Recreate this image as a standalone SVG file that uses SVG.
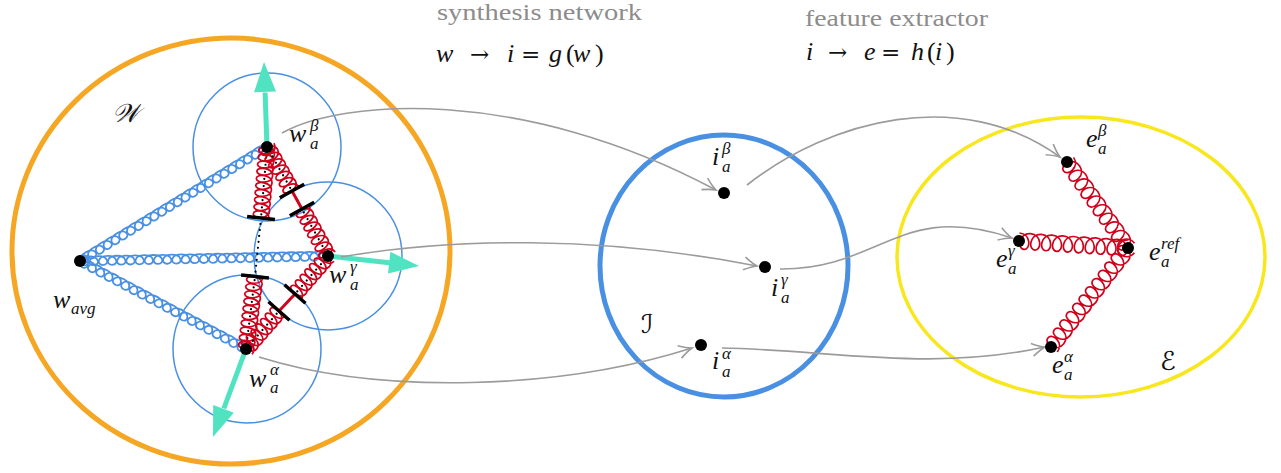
<svg xmlns="http://www.w3.org/2000/svg" width="1281" height="473" viewBox="0 0 1281 473">
<style>
.thin{fill:none;stroke:#4a90e2;stroke-width:1.5}
.bcoil{fill:none;stroke:#4a90e2;stroke-width:1.8}
.rcoil{fill:none;stroke:#d0021b;stroke-width:1.7}
.axis{stroke:#000;stroke-width:2.2;stroke-linecap:round}
.bar{stroke:#000;stroke-width:3.5}
.rod{stroke:#d0021b;stroke-width:3}
.teal{stroke:#50e3c2;stroke-width:5}
.tealhead{fill:#50e3c2}
.conn{fill:none;stroke:#9b9b9b;stroke-width:1.6;marker-end:url(#open)}
.dot{fill:#000}
.m{font-family:"Liberation Serif","DejaVu Serif",serif;font-style:italic;font-size:26px;fill:#111}
.s{font-size:17px}
.op{font-family:"DejaVu Serif",serif;font-style:normal;font-size:23px}
.up{font-style:normal}
.cap{font-family:"Liberation Serif",serif;font-size:23px;fill:#8c8c8c}
.cal{font-family:"DejaVu Serif","DejaVu Sans",serif;font-style:italic;font-size:26px;fill:#111}
</style>
<defs>
<marker id="open" markerUnits="userSpaceOnUse" markerWidth="20" markerHeight="20" viewBox="-16 -10 20 20" refX="0" refY="0" orient="auto">
<path d="M-13,-6.5 Q-5,-1.5 0,0 Q-5,1.5 -13,6.5" fill="none" stroke="#9b9b9b" stroke-width="1.6"/>
</marker>
</defs>

<g id="spaces">
<ellipse id="W-space" cx="231" cy="251" rx="219" ry="213" fill="none" stroke="#f5a623" stroke-width="5"/>
<ellipse id="I-space" cx="724" cy="266" rx="124" ry="131" fill="none" stroke="#4a90e2" stroke-width="5"/>
<ellipse id="E-space" cx="1081" cy="257" rx="184" ry="140" fill="none" stroke="#f8e71c" stroke-width="3.5"/>
<circle class="thin" cx="267" cy="147" r="74"/>
<circle class="thin" cx="328" cy="256" r="74"/>
<circle class="thin" cx="247" cy="349" r="74"/>
</g>

<g id="blue-springs">
<path class="bcoil" transform="translate(80,261) rotate(-31.37)" d="M0,-4.5 c10.34,0 11.02,9 4.56,9 c-6.46,0 -5.78,-9 4.56,-9 c10.34,0 11.02,9 4.56,9 c-6.46,0 -5.78,-9 4.56,-9 c10.34,0 11.02,9 4.56,9 c-6.46,0 -5.78,-9 4.56,-9 c10.34,0 11.02,9 4.56,9 c-6.46,0 -5.78,-9 4.56,-9
c10.34,0 11.02,9 4.56,9 c-6.46,0 -5.78,-9 4.56,-9 c10.34,0 11.02,9 4.56,9 c-6.46,0 -5.78,-9 4.56,-9 c10.34,0 11.02,9 4.56,9 c-6.46,0 -5.78,-9 4.56,-9 c10.34,0 11.02,9 4.56,9 c-6.46,0 -5.78,-9 4.56,-9
c10.34,0 11.02,9 4.56,9 c-6.46,0 -5.78,-9 4.56,-9 c10.34,0 11.02,9 4.56,9 c-6.46,0 -5.78,-9 4.56,-9 c10.34,0 11.02,9 4.56,9 c-6.46,0 -5.78,-9 4.56,-9 c10.34,0 11.02,9 4.56,9 c-6.46,0 -5.78,-9 4.56,-9
c10.34,0 11.02,9 4.56,9 c-6.46,0 -5.78,-9 4.56,-9 c10.34,0 11.02,9 4.56,9 c-6.46,0 -5.78,-9 4.56,-9 c10.34,0 11.02,9 4.56,9 c-6.46,0 -5.78,-9 4.56,-9 c10.34,0 11.02,9 4.56,9 c-6.46,0 -5.78,-9 4.56,-9
c10.34,0 11.02,9 4.56,9 c-6.46,0 -5.78,-9 4.56,-9 c10.34,0 11.02,9 4.56,9 c-6.46,0 -5.78,-9 4.56,-9 c10.34,0 11.02,9 4.56,9 c-6.46,0 -5.78,-9 4.56,-9 c10.34,0 11.02,9 4.56,9 c-6.46,0 -5.78,-9 4.56,-9
c10.34,0 11.02,9 4.56,9 c-6.46,0 -5.78,-9 4.56,-9 c10.34,0 11.02,9 4.56,9 c-6.46,0 -5.78,-9 4.56,-9 c10.34,0 11.02,9 4.56,9 c-6.46,0 -5.78,-9 4.56,-9 c10.34,0 11.02,9 4.56,9 c-6.46,0 -5.78,-9 4.56,-9"/>
<path class="bcoil" transform="translate(80,261) rotate(-1.155)" d="M0,-4.5 c10.35,0 11.04,9 4.59,9 c-6.45,0 -5.76,-9 4.59,-9 c10.35,0 11.04,9 4.59,9 c-6.45,0 -5.76,-9 4.59,-9 c10.35,0 11.04,9 4.59,9 c-6.45,0 -5.76,-9 4.59,-9
c10.35,0 11.04,9 4.59,9 c-6.45,0 -5.76,-9 4.59,-9 c10.35,0 11.04,9 4.59,9 c-6.45,0 -5.76,-9 4.59,-9 c10.35,0 11.04,9 4.59,9 c-6.45,0 -5.76,-9 4.59,-9
c10.35,0 11.04,9 4.59,9 c-6.45,0 -5.76,-9 4.59,-9 c10.35,0 11.04,9 4.59,9 c-6.45,0 -5.76,-9 4.59,-9 c10.35,0 11.04,9 4.59,9 c-6.45,0 -5.76,-9 4.59,-9
c10.35,0 11.04,9 4.59,9 c-6.45,0 -5.76,-9 4.59,-9 c10.35,0 11.04,9 4.59,9 c-6.45,0 -5.76,-9 4.59,-9 c10.35,0 11.04,9 4.59,9 c-6.45,0 -5.76,-9 4.59,-9
c10.35,0 11.04,9 4.59,9 c-6.45,0 -5.76,-9 4.59,-9 c10.35,0 11.04,9 4.59,9 c-6.45,0 -5.76,-9 4.59,-9 c10.35,0 11.04,9 4.59,9 c-6.45,0 -5.76,-9 4.59,-9
c10.35,0 11.04,9 4.59,9 c-6.45,0 -5.76,-9 4.59,-9 c10.35,0 11.04,9 4.59,9 c-6.45,0 -5.76,-9 4.59,-9 c10.35,0 11.04,9 4.59,9 c-6.45,0 -5.76,-9 4.59,-9
c10.35,0 11.04,9 4.59,9 c-6.45,0 -5.76,-9 4.59,-9 c10.35,0 11.04,9 4.59,9 c-6.45,0 -5.76,-9 4.59,-9 c10.35,0 11.04,9 4.59,9 c-6.45,0 -5.76,-9 4.59,-9
c10.35,0 11.04,9 4.59,9 c-6.45,0 -5.76,-9 4.59,-9 c10.35,0 11.04,9 4.59,9 c-6.45,0 -5.76,-9 4.59,-9 c10.35,0 11.04,9 4.59,9 c-6.45,0 -5.76,-9 4.59,-9
c10.35,0 11.04,9 4.59,9 c-6.45,0 -5.76,-9 4.59,-9 c10.35,0 11.04,9 4.59,9 c-6.45,0 -5.76,-9 4.59,-9 c10.35,0 11.04,9 4.59,9 c-6.45,0 -5.76,-9 4.59,-9"/>
<path class="bcoil" transform="translate(80,261) rotate(27.93)" d="M0,-4.5 c10.39,0 11.11,9 4.7,9 c-6.41,0 -5.69,-9 4.7,-9 c10.39,0 11.11,9 4.7,9 c-6.41,0 -5.69,-9 4.7,-9 c10.39,0 11.11,9 4.7,9 c-6.41,0 -5.69,-9 4.7,-9 c10.39,0 11.11,9 4.7,9 c-6.41,0 -5.69,-9 4.7,-9
c10.39,0 11.11,9 4.7,9 c-6.41,0 -5.69,-9 4.7,-9 c10.39,0 11.11,9 4.7,9 c-6.41,0 -5.69,-9 4.7,-9 c10.39,0 11.11,9 4.7,9 c-6.41,0 -5.69,-9 4.7,-9 c10.39,0 11.11,9 4.7,9 c-6.41,0 -5.69,-9 4.7,-9
c10.39,0 11.11,9 4.7,9 c-6.41,0 -5.69,-9 4.7,-9 c10.39,0 11.11,9 4.7,9 c-6.41,0 -5.69,-9 4.7,-9 c10.39,0 11.11,9 4.7,9 c-6.41,0 -5.69,-9 4.7,-9 c10.39,0 11.11,9 4.7,9 c-6.41,0 -5.69,-9 4.7,-9
c10.39,0 11.11,9 4.7,9 c-6.41,0 -5.69,-9 4.7,-9 c10.39,0 11.11,9 4.7,9 c-6.41,0 -5.69,-9 4.7,-9 c10.39,0 11.11,9 4.7,9 c-6.41,0 -5.69,-9 4.7,-9 c10.39,0 11.11,9 4.7,9 c-6.41,0 -5.69,-9 4.7,-9
c10.39,0 11.11,9 4.7,9 c-6.41,0 -5.69,-9 4.7,-9 c10.39,0 11.11,9 4.7,9 c-6.41,0 -5.69,-9 4.7,-9 c10.39,0 11.11,9 4.7,9 c-6.41,0 -5.69,-9 4.7,-9 c10.39,0 11.11,9 4.7,9 c-6.41,0 -5.69,-9 4.7,-9"/>
</g>

<g id="red-springs-w">
<g transform="translate(267,147) rotate(94.83)">
<path class="rcoil" d="M0,-8 c8.2,0 8.69,16 3.56,16 c-5.13,0 -4.64,-16 3.56,-16 c8.2,0 8.69,16 3.56,16 c-5.13,0 -4.64,-16 3.56,-16 c8.2,0 8.69,16 3.56,16 c-5.13,0 -4.64,-16 3.56,-16 c8.2,0 8.69,16 3.56,16 c-5.13,0 -4.64,-16 3.56,-16 c8.2,0 8.69,16 3.56,16 c-5.13,0 -4.64,-16 3.56,-16 c8.2,0 8.69,16 3.56,16 c-5.13,0 -4.64,-16 3.56,-16 c8.2,0 8.69,16 3.56,16 c-5.13,0 -4.64,-16 3.56,-16 c8.2,0 8.69,16 3.56,16 c-5.13,0 -4.64,-16 3.56,-16 c8.2,0 8.69,16 3.56,16 c-5.13,0 -4.64,-16 3.56,-16 c8.2,0 8.69,16 3.56,16 c-5.13,0 -4.64,-16 3.56,-16"/>
<line class="axis" x1="3.56" y1="0" x2="67.7" y2="0" stroke-dasharray="0 7.12"/>
</g>
<g transform="translate(255,276.5) rotate(97.08)">
<path class="rcoil" d="M0,-8 c8.2,0 8.78,16 3.65,16 c-5.13,0 -4.55,-16 3.65,-16 c8.2,0 8.78,16 3.65,16 c-5.13,0 -4.55,-16 3.65,-16 c8.2,0 8.78,16 3.65,16 c-5.13,0 -4.55,-16 3.65,-16 c8.2,0 8.78,16 3.65,16 c-5.13,0 -4.55,-16 3.65,-16 c8.2,0 8.78,16 3.65,16 c-5.13,0 -4.55,-16 3.65,-16 c8.2,0 8.78,16 3.65,16 c-5.13,0 -4.55,-16 3.65,-16 c8.2,0 8.78,16 3.65,16 c-5.13,0 -4.55,-16 3.65,-16 c8.2,0 8.78,16 3.65,16 c-5.13,0 -4.55,-16 3.65,-16 c8.2,0 8.78,16 3.65,16 c-5.13,0 -4.55,-16 3.65,-16 c8.2,0 8.78,16 3.65,16 c-5.13,0 -4.55,-16 3.65,-16"/>
<line class="axis" x1="3.65" y1="0" x2="69.4" y2="0" stroke-dasharray="0 7.3"/>
</g>
<g transform="translate(267,147) rotate(60.4)">
<path class="rcoil" d="M0,-8 c8.2,0 8.74,16 3.61,16 c-5.13,0 -4.59,-16 3.61,-16 c8.2,0 8.74,16 3.61,16 c-5.13,0 -4.59,-16 3.61,-16 c8.2,0 8.74,16 3.61,16 c-5.13,0 -4.59,-16 3.61,-16 c8.2,0 8.74,16 3.61,16 c-5.13,0 -4.59,-16 3.61,-16 c8.2,0 8.74,16 3.61,16 c-5.13,0 -4.59,-16 3.61,-16 c8.2,0 8.74,16 3.61,16 c-5.13,0 -4.59,-16 3.61,-16 c8.2,0 8.74,16 3.61,16 c-5.13,0 -4.59,-16 3.61,-16"/>
<line class="axis" x1="3.61" y1="0" x2="47" y2="0" stroke-dasharray="0 7.22"/>
</g>
<g transform="translate(302,209) rotate(61.05)">
<path class="rcoil" d="M0,-8 c8.2,0 8.97,16 3.84,16 c-5.13,0 -4.36,-16 3.84,-16 c8.2,0 8.97,16 3.84,16 c-5.13,0 -4.36,-16 3.84,-16 c8.2,0 8.97,16 3.84,16 c-5.13,0 -4.36,-16 3.84,-16 c8.2,0 8.97,16 3.84,16 c-5.13,0 -4.36,-16 3.84,-16 c8.2,0 8.97,16 3.84,16 c-5.13,0 -4.36,-16 3.84,-16 c8.2,0 8.97,16 3.84,16 c-5.13,0 -4.36,-16 3.84,-16 c8.2,0 8.97,16 3.84,16 c-5.13,0 -4.36,-16 3.84,-16"/>
<line class="axis" x1="3.84" y1="0" x2="50" y2="0" stroke-dasharray="0 7.68"/>
</g>
<g transform="translate(328,256) rotate(130.97)">
<path class="rcoil" d="M0,-8 c8.2,0 8.73,16 3.6,16 c-5.13,0 -4.6,-16 3.6,-16 c8.2,0 8.73,16 3.6,16 c-5.13,0 -4.6,-16 3.6,-16 c8.2,0 8.73,16 3.6,16 c-5.13,0 -4.6,-16 3.6,-16 c8.2,0 8.73,16 3.6,16 c-5.13,0 -4.6,-16 3.6,-16 c8.2,0 8.73,16 3.6,16 c-5.13,0 -4.6,-16 3.6,-16 c8.2,0 8.73,16 3.6,16 c-5.13,0 -4.6,-16 3.6,-16 c8.2,0 8.73,16 3.6,16 c-5.13,0 -4.6,-16 3.6,-16"/>
<line class="axis" x1="3.6" y1="0" x2="46.9" y2="0" stroke-dasharray="0 7.2"/>
</g>
<g transform="translate(279,311) rotate(130.97)">
<path class="rcoil" d="M0,-8 c8.2,0 8.73,16 3.6,16 c-5.13,0 -4.6,-16 3.6,-16 c8.2,0 8.73,16 3.6,16 c-5.13,0 -4.6,-16 3.6,-16 c8.2,0 8.73,16 3.6,16 c-5.13,0 -4.6,-16 3.6,-16 c8.2,0 8.73,16 3.6,16 c-5.13,0 -4.6,-16 3.6,-16 c8.2,0 8.73,16 3.6,16 c-5.13,0 -4.6,-16 3.6,-16 c8.2,0 8.73,16 3.6,16 c-5.13,0 -4.6,-16 3.6,-16 c8.2,0 8.73,16 3.6,16 c-5.13,0 -4.6,-16 3.6,-16"/>
<line class="axis" x1="3.6" y1="0" x2="46.9" y2="0" stroke-dasharray="0 7.2"/>
</g>
<line class="axis" x1="261" y1="218" x2="255" y2="276.5" stroke-dasharray="0 6"/>
<line class="rod" x1="292" y1="191" x2="302" y2="209"/>
<line class="rod" x1="295" y1="294" x2="279" y2="311"/>
<line class="bar" x1="247.1" y1="216.6" x2="274.9" y2="219.4"/>
<line class="bar" x1="241.1" y1="275.1" x2="268.9" y2="277.9"/>
<line class="bar" x1="279.8" y1="197.8" x2="304.2" y2="184.2"/>
<line class="bar" x1="289.8" y1="215.8" x2="314.2" y2="202.2"/>
<line class="bar" x1="284.5" y1="284.8" x2="305.5" y2="303.2"/>
<line class="bar" x1="268.5" y1="301.8" x2="289.5" y2="320.2"/>
</g>

<g id="gradient-arrows">
<line class="teal" x1="267" y1="147" x2="265.1" y2="92.5"/>
<polygon class="tealhead" points="264,62 276.05,91.6 254.07,92.37"/>
<line class="teal" x1="328" y1="256" x2="389.5" y2="262.7"/>
<polygon class="tealhead" points="419,266 388,273.6 390.4,251.8"/>
<line class="teal" x1="246" y1="349" x2="223.8" y2="408.5"/>
<polygon class="tealhead" points="213,437 233.8,412.8 213.2,405"/>
</g>

<g id="red-springs-e">
<path class="rcoil" transform="translate(1067,162) rotate(54.65)" d="M0,-8 c11.57,0 12.37,16 5.27,16 c-7.1,0 -6.3,-16 5.27,-16 c11.57,0 12.37,16 5.27,16 c-7.1,0 -6.3,-16 5.27,-16 c11.57,0 12.37,16 5.27,16 c-7.1,0 -6.3,-16 5.27,-16 c11.57,0 12.37,16 5.27,16 c-7.1,0 -6.3,-16 5.27,-16 c11.57,0 12.37,16 5.27,16 c-7.1,0 -6.3,-16 5.27,-16 c11.57,0 12.37,16 5.27,16 c-7.1,0 -6.3,-16 5.27,-16 c11.57,0 12.37,16 5.27,16 c-7.1,0 -6.3,-16 5.27,-16 c11.57,0 12.37,16 5.27,16 c-7.1,0 -6.3,-16 5.27,-16 c11.57,0 12.37,16 5.27,16 c-7.1,0 -6.3,-16 5.27,-16 c11.57,0 12.37,16 5.27,16 c-7.1,0 -6.3,-16 5.27,-16"/>
<path class="rcoil" transform="translate(1019,241) rotate(3.67)" d="M0,-8 c11.65,0 12.48,16 5.46,16 c-7.02,0 -6.19,-16 5.46,-16 c11.65,0 12.48,16 5.46,16 c-7.02,0 -6.19,-16 5.46,-16 c11.65,0 12.48,16 5.46,16 c-7.02,0 -6.19,-16 5.46,-16 c11.65,0 12.48,16 5.46,16 c-7.02,0 -6.19,-16 5.46,-16 c11.65,0 12.48,16 5.46,16 c-7.02,0 -6.19,-16 5.46,-16 c11.65,0 12.48,16 5.46,16 c-7.02,0 -6.19,-16 5.46,-16 c11.65,0 12.48,16 5.46,16 c-7.02,0 -6.19,-16 5.46,-16 c11.65,0 12.48,16 5.46,16 c-7.02,0 -6.19,-16 5.46,-16 c11.65,0 12.48,16 5.46,16 c-7.02,0 -6.19,-16 5.46,-16 c11.65,0 12.48,16 5.46,16 c-7.02,0 -6.19,-16 5.46,-16"/>
<path class="rcoil" transform="translate(1051,347) rotate(-52.13)" d="M0,8 c11.55,0 12.35,-16 5.23,-16 c-7.12,0 -6.32,16 5.23,16 c11.55,0 12.35,-16 5.23,-16 c-7.12,0 -6.32,16 5.23,16 c11.55,0 12.35,-16 5.23,-16 c-7.12,0 -6.32,16 5.23,16 c11.55,0 12.35,-16 5.23,-16 c-7.12,0 -6.32,16 5.23,16 c11.55,0 12.35,-16 5.23,-16 c-7.12,0 -6.32,16 5.23,16 c11.55,0 12.35,-16 5.23,-16 c-7.12,0 -6.32,16 5.23,16 c11.55,0 12.35,-16 5.23,-16 c-7.12,0 -6.32,16 5.23,16 c11.55,0 12.35,-16 5.23,-16 c-7.12,0 -6.32,16 5.23,16 c11.55,0 12.35,-16 5.23,-16 c-7.12,0 -6.32,16 5.23,16 c11.55,0 12.35,-16 5.23,-16 c-7.12,0 -6.32,16 5.23,16 c11.55,0 12.35,-16 5.23,-16 c-7.12,0 -6.32,16 5.23,16 c11.55,0 12.35,-16 5.23,-16 c-7.12,0 -6.32,16 5.23,16"/>
</g>

<g id="connectors">
<path class="conn" d="M282,133 C340,100 520,85 716,190"/>
<path class="conn" d="M341,257 C450,238 600,235 757,266"/>
<path class="conn" d="M259,357 C380,395 560,390 692,348"/>
<path class="conn" d="M747,185 C830,120 960,85 1060,157"/>
<path class="conn" d="M780,269 C880,270 900,200 1012,238"/>
<path class="conn" d="M722,348 C830,350 930,372 1045,347"/>
</g>

<g id="titles">
<text class="cap" x="437" y="20" textLength="205" lengthAdjust="spacingAndGlyphs">synthesis network</text>
<text class="cap" x="805" y="26" textLength="183" lengthAdjust="spacingAndGlyphs">feature extractor</text>
<text class="m"><tspan x="436" y="62">w</tspan><tspan class="op" x="470" y="62">→</tspan><tspan x="507" y="62">i</tspan><tspan class="op" x="521" y="62">=</tspan><tspan x="549" y="62">g</tspan><tspan class="up" x="566" y="62">(</tspan><tspan x="573" y="62">w</tspan><tspan class="up" x="595" y="62">)</tspan></text>
<text class="m"><tspan x="806" y="60">i</tspan><tspan class="op" x="828" y="60">→</tspan><tspan x="864" y="60">e</tspan><tspan class="op" x="881" y="60">=</tspan><tspan x="911" y="60">h</tspan><tspan class="up" x="927" y="60">(</tspan><tspan x="935" y="60">i</tspan><tspan class="up" x="946" y="60">)</tspan></text>
<text class="cal" x="112" y="122">𝒲</text>
<text class="cal" x="641" y="333">ℐ</text>
<text class="cal" x="1160" y="370">ℰ</text>
</g>

<g id="node-w-avg"><circle class="dot" cx="80" cy="261" r="6"/><text class="m"><tspan x="53" y="308">w</tspan><tspan class="s" x="71" y="314">avg</tspan></text></g>
<g id="node-w-beta"><circle class="dot" cx="267" cy="147" r="6"/><text class="m"><tspan x="289" y="142">w</tspan><tspan class="s" x="310" y="131">β</tspan><tspan class="s" x="310" y="149">a</tspan></text></g>
<g id="node-w-gamma"><circle class="dot" cx="328" cy="256" r="6"/><text class="m"><tspan x="329" y="283">w</tspan><tspan class="s" x="350" y="272">γ</tspan><tspan class="s" x="350" y="290">a</tspan></text></g>
<g id="node-w-alpha"><circle class="dot" cx="246" cy="349" r="6"/><text class="m"><tspan x="249" y="387">w</tspan><tspan class="s" x="270" y="375">α</tspan><tspan class="s" x="270" y="393">a</tspan></text></g>
<g id="node-i-beta"><circle class="dot" cx="724" cy="193" r="6"/><text class="m"><tspan x="712" y="165">i</tspan><tspan class="s" x="722" y="154">β</tspan><tspan class="s" x="722" y="172">a</tspan></text></g>
<g id="node-i-gamma"><circle class="dot" cx="765" cy="267" r="6"/><text class="m"><tspan x="771" y="296">i</tspan><tspan class="s" x="781" y="285">γ</tspan><tspan class="s" x="781" y="303">a</tspan></text></g>
<g id="node-i-alpha"><circle class="dot" cx="701" cy="345" r="6"/><text class="m"><tspan x="712" y="369">i</tspan><tspan class="s" x="722" y="359">α</tspan><tspan class="s" x="722" y="377">a</tspan></text></g>
<g id="node-e-beta"><circle class="dot" cx="1067" cy="162" r="6"/><text class="m"><tspan x="1086" y="147">e</tspan><tspan class="s" x="1098" y="136">β</tspan><tspan class="s" x="1098" y="154">a</tspan></text></g>
<g id="node-e-gamma"><circle class="dot" cx="1019" cy="241" r="6"/><text class="m"><tspan x="996" y="267">e</tspan><tspan class="s" x="1008" y="256">γ</tspan><tspan class="s" x="1008" y="274">a</tspan></text></g>
<g id="node-e-ref"><circle class="dot" cx="1128" cy="248" r="6"/><text class="m"><tspan x="1149" y="260">e</tspan><tspan class="s" x="1161" y="249">ref</tspan><tspan class="s" x="1161" y="267">a</tspan></text></g>
<g id="node-e-alpha"><circle class="dot" cx="1051" cy="347" r="6"/><text class="m"><tspan x="1052" y="373">e</tspan><tspan class="s" x="1064" y="362">α</tspan><tspan class="s" x="1064" y="380">a</tspan></text></g>
</svg>
